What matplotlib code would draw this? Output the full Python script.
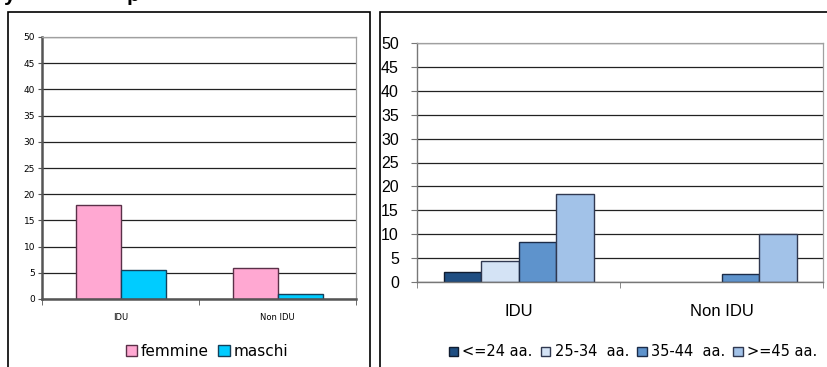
import numpy as np
import matplotlib
matplotlib.use("Agg")
import matplotlib.pyplot as plt
from matplotlib.patches import Rectangle

# data
groups = ["IDU", "Non IDU"]

sex_labels = ["femmine", "maschi"]
femmine = [18.0, 6.0]
maschi = [5.6, 0.9]

age_labels = ["<=24 aa.", "25-34  aa.", "35-44  aa.", ">=45 aa."]
age_le24 = [2.0, 0.0]
age_25_34 = [4.3, 0.0]
age_35_44 = [8.4, 1.6]
age_ge45 = [18.4, 10.0]

W, H = 827, 367
fig = plt.figure(figsize=(W / 100, H / 100), dpi=100)


def px_axes(x0, y0, x1, y1):
    # pixel box (top-left origin) -> figure axes
    return fig.add_axes([x0 / W, (H - y1) / H, (x1 - x0) / W, (y1 - y0) / H])


# panel frames
fig.patches.append(Rectangle((8 / W, -0.05), (370 - 8) / W, (H - 12) / H + 0.05,
                             transform=fig.transFigure, fill=False, ec="black", lw=1.2))
fig.patches.append(Rectangle((380 / W, -0.05), (W + 5 - 380) / W, (H - 12) / H + 0.05,
                             transform=fig.transFigure, fill=False, ec="black", lw=1.2))

# cut-off title at the very top (only descenders visible in the reference)
fig.text(4 / W, (H - 1) / H, "y", fontsize=15, fontweight="bold", va="baseline",
         family="Liberation Sans")
fig.text(127 / W, (H - 1) / H, "p", fontsize=15, fontweight="bold", va="baseline",
         family="Liberation Sans")

x = np.arange(len(groups))


def style_axes(ax, grid_col, spine_col, spine_lw):
    ax.set_xlim(-0.5, 1.5)
    ax.set_ylim(0, 50)
    ax.set_yticks(np.arange(0, 51, 5))
    ax.yaxis.grid(True, color=grid_col, lw=0.9)
    ax.set_axisbelow(True)
    for s in ("left", "bottom"):
        ax.spines[s].set_color(spine_col)
        ax.spines[s].set_linewidth(spine_lw)
    for s in ("top", "right"):
        ax.spines[s].set_color("#a0a0a0")
        ax.spines[s].set_linewidth(0.9)
    ax.set_xticks(x)
    ax.set_xticks([-0.5, 0.5, 1.5], minor=True)
    ax.tick_params(axis="x", which="major", length=0)
    ax.tick_params(axis="x", which="minor", length=4, color=spine_col, direction="out")
    ax.tick_params(axis="y", color=spine_col, direction="out")


# left chart: by sex
ax1 = px_axes(42, 37, 356, 299)
bw1 = 45 / 157
ax1.bar(x - bw1 / 2, femmine, bw1, color="#ffa8d2", ec="#5a3048", lw=1.0, label=sex_labels[0])
ax1.bar(x + bw1 / 2, maschi, bw1, color="#00ccff", ec="#15405a", lw=1.0, label=sex_labels[1])
style_axes(ax1, "#222222", "#555555", 1.8)
ax1.set_xticklabels(groups, fontsize=6, family="DejaVu Sans")
ax1.tick_params(axis="x", which="major", pad=10)
ax1.tick_params(axis="y", labelsize=6.5, length=3, pad=2)
for t in ax1.get_yticklabels():
    t.set_family("DejaVu Sans")
ax1.legend(loc="center", bbox_to_anchor=(207 / W, (H - 351) / H),
           bbox_transform=fig.transFigure, ncol=2, frameon=False,
           prop={"family": "DejaVu Sans", "size": 11}, handlelength=0.75,
           handleheight=0.75, handletextpad=0.25, columnspacing=0.6)

# right chart: by age
ax2 = px_axes(417, 43, 823, 282)
bw2 = 37.5 / 203
age_series = [age_le24, age_25_34, age_35_44, age_ge45]
age_colors = ["#1f4e82", "#d4e3f5", "#5e93cc", "#a2c2e8"]
age_edges = ["#101c30", "#303850", "#1c2c48", "#303850"]
for i, (vals, c, ec, lab) in enumerate(zip(age_series, age_colors, age_edges, age_labels)):
    vals = np.array(vals)
    b = ax2.bar(x + (i - 1.5) * bw2, vals, bw2, color=c, ec=ec, lw=1.0, label=lab)
    for rect, v in zip(b, vals):
        if v == 0:
            rect.set_visible(False)
style_axes(ax2, "#222222", "#777777", 1.0)
ax2.set_xticklabels(groups, fontsize=12, family="Liberation Sans")
ax2.tick_params(axis="x", which="major", pad=16)
ax2.tick_params(axis="y", labelsize=11.5, length=4, pad=9)
for t in ax2.get_yticklabels():
    t.set_family("Liberation Sans")
ax2.legend(loc="center", bbox_to_anchor=(633 / W, (H - 352) / H),
           bbox_transform=fig.transFigure, ncol=4, frameon=False,
           prop={"family": "DejaVu Sans", "size": 10.5}, handlelength=0.65,
           handleheight=0.65, handletextpad=0.3, columnspacing=0.55)

fig.savefig("out.png", dpi=100)
